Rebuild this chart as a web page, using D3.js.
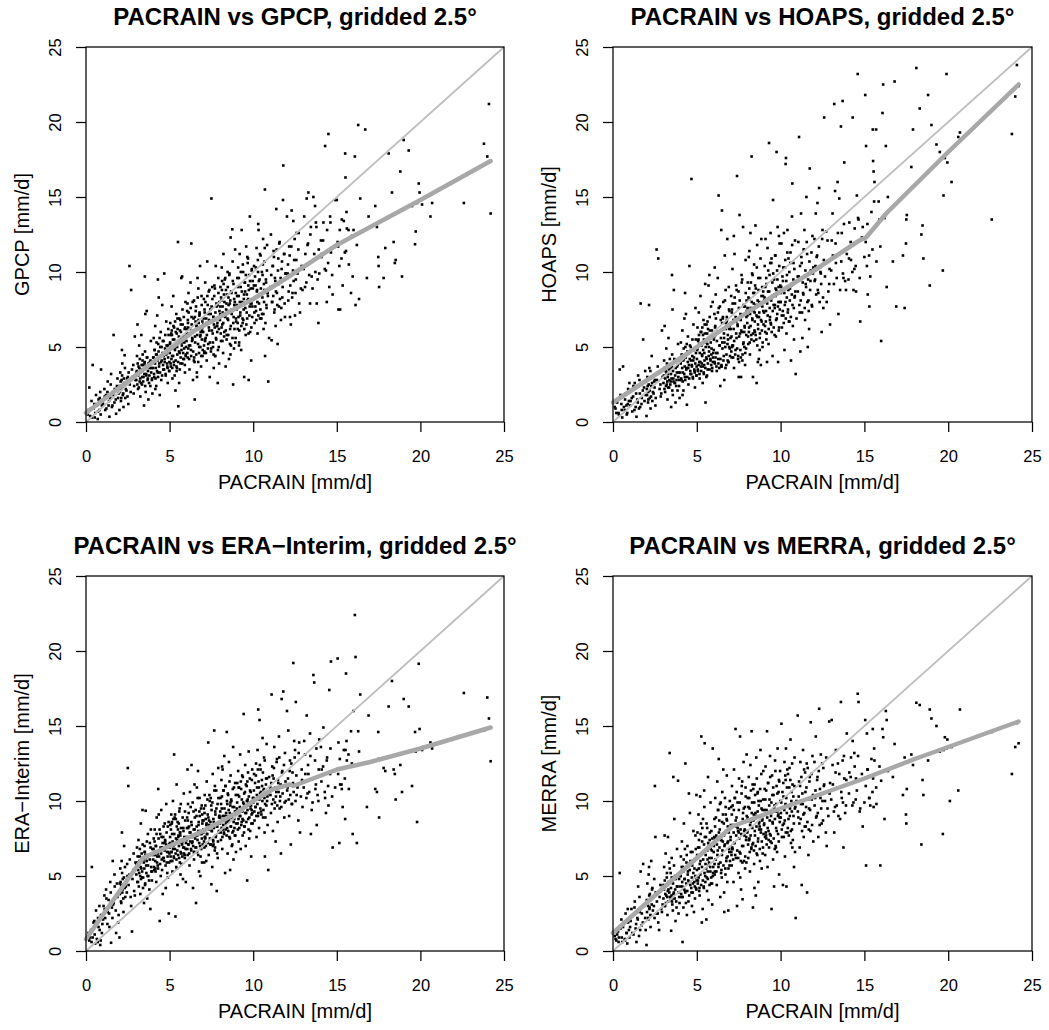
<!DOCTYPE html>
<html>
<head>
<meta charset="utf-8">
<script src="https://cdn.jsdelivr.net/npm/d3@7"></script>
<style>
body { margin: 0; background: #fff; }
svg { display: block; font-family: "Liberation Sans", Arial, Helvetica, sans-serif; }
</style>
</head>
<body>
<svg id="chart" width="1049" height="1030"></svg>
<script>
// PACRAIN grid-box means [mm/d], shared x of all four panels (one line per 1 mm/d bin)
let pacrain = [
0.1,0.2,0.3,0.35,0.4,0.5,0.55,0.6,0.7,0.75,0.8,0.85,0.9,0.95,
1.05,1.1,1.15,1.2,1.3,1.35,1.4,1.45,1.5,1.55,1.6,1.65,1.7,1.8,1.85,1.95,
2.02,2.05,2.09,2.13,2.17,2.2,2.24,2.28,2.31,2.35,2.5,2.6,2.42,2.0,2.46,2.7,2.53,2.1,2.15,2.75,2.85,2.92,
3.02,3.05,3.11,3.14,3.18,3.21,3.25,3.28,3.31,3.35,3.38,3.52,3.44,3.47,3.5,3.53,3.57,3.6,3.63,3.66,3.7,3.73,3.55,3.79,3.82,3.85,3.88,3.91,3.94,3.97,3.08,3.41,
4.02,4.05,4.08,4.11,4.14,4.17,4.2,4.23,4.26,4.29,4.32,4.68,4.38,4.41,4.44,4.47,4.5,4.53,4.56,4.59,4.62,4.15,4.3,4.71,4.74,4.77,4.8,4.83,4.86,4.89,4.92,4.95,4.98,4.35,4.65,4.9,
5.02,5.04,5.07,5.1,5.12,5.15,5.17,5.2,5.22,5.25,5.27,5.5,5.32,5.35,5.37,5.4,5.42,5.45,5.52,5.47,5.55,5.57,5.75,5.6,5.62,5.65,5.67,5.7,5.72,5.3,5.77,5.8,5.82,5.85,5.87,5.9,5.92,5.95,5.97,5.14,5.44,5.64,
6.02,6.05,6.08,6.1,6.13,6.16,6.19,6.22,6.25,6.28,6.31,6.3,6.37,6.4,6.43,6.46,6.49,6.52,6.5,6.58,6.61,6.64,6.67,6.7,6.73,6.76,6.79,6.82,6.85,6.88,6.91,6.94,6.97,6.07,6.34,6.55,6.63,6.72,6.84,6.95,
7.02,7.05,7.08,7.1,7.13,7.16,7.19,7.22,7.25,7.28,7.31,7.34,7.37,7.4,7.43,7.5,7.49,7.52,7.55,7.58,7.61,7.64,7.67,7.7,7.73,7.76,7.79,7.82,7.85,7.88,7.91,7.94,7.97,7.07,7.21,7.46,7.59,7.71,7.84,7.96,
8.02,8.04,8.07,8.1,8.12,8.15,8.17,8.2,8.22,8.25,8.27,8.3,8.32,8.35,8.37,8.75,8.42,8.45,8.47,8.5,8.52,8.55,8.57,8.6,8.62,8.65,8.67,8.7,8.72,8.8,8.77,8.81,8.82,8.85,8.87,8.9,8.92,8.95,8.97,8.14,8.44,8.64,
9.02,9.05,9.08,9.1,9.13,9.16,9.19,9.22,9.25,9.28,9.31,9.34,9.37,9.4,9.43,9.46,9.49,9.52,9.55,9.58,9.61,9.64,9.67,9.7,9.73,9.76,9.79,9.8,9.82,9.85,9.88,9.91,9.94,9.97,9.15,9.45,9.65,9.9,
10.02,10.05,10.08,10.3,10.14,10.17,10.2,10.23,10.26,10.29,10.32,10.35,10.38,10.41,10.44,10.47,10.7,10.53,10.56,10.59,10.62,10.65,10.68,10.71,10.9,10.77,10.8,10.83,10.86,10.95,
11.02,11.06,11.1,11.14,11.18,11.22,11.26,11.3,11.34,11.38,11.42,11.46,11.5,11.54,11.58,11.62,11.66,11.8,11.7,11.74,11.78,11.86,11.9,11.95,
12.02,12.06,12.1,12.15,12.2,12.25,12.3,12.35,12.4,12.45,12.5,12.55,12.6,12.7,12.75,12.8,12.9,12.95,
13.05,13.1,13.2,13.25,13.3,13.4,13.45,13.5,13.6,13.65,13.7,13.75,13.8,13.9,13.95,
14.05,14.1,14.2,14.3,14.35,14.4,14.5,14.55,14.6,14.65,14.75,14.9,
15.0,15.05,15.1,15.15,15.2,15.3,15.35,15.5,15.52,15.55,15.6,15.7,15.85,15.95,
16.0,16.08,16.12,16.2,16.28,16.33,16.4,16.7,16.8,16.9,
17.3,17.4,17.48,17.5,17.53,17.8,17.9,
18.1,18.3,18.4,18.47,18.52,18.8,18.9,19.0,
19.3,19.5,19.68,19.72,19.8,19.9,19.95,
20.1,20.2,20.6,20.7,
22.6,
23.8,24.0,24.1,24.2,
// denser core
0.15,0.25,0.33,0.45,0.52,0.65,0.72,0.82,0.88,0.98,
1.02,1.12,1.22,1.28,1.38,1.48,1.58,1.62,1.72,1.78,1.88,1.92,
2.03,2.07,2.11,2.16,2.19,2.23,2.27,2.33,2.38,2.44,2.48,2.55,2.62,2.67,2.78,2.83,2.88,2.96,
3.01,3.04,3.07,3.09,3.12,3.16,3.19,3.22,3.24,3.27,3.29,3.33,3.36,3.39,3.42,3.46,3.49,3.51,3.54,3.58,3.61,3.64,3.68,3.71,3.74,3.77,3.81,3.86,3.9,3.95,
4.01,4.04,4.07,4.1,4.13,4.16,4.19,4.22,4.25,4.28,4.31,4.34,4.37,4.4,4.43,4.46,4.49,4.52,4.55,4.58,4.61,4.64,4.67,4.7,4.73,4.76,4.79,4.82,4.85,4.88,4.91,4.94,4.97,4.99,
5.01,5.03,5.06,5.08,5.11,5.13,5.16,5.18,5.21,5.23,5.26,5.28,5.31,5.33,5.36,5.38,5.41,5.43,5.46,5.48,5.51,5.53,5.56,5.58,5.61,5.63,5.66,5.68,5.71,5.73,5.76,5.78,5.81,5.83,5.86,5.88,5.91,5.93,5.96,5.98,
6.01,6.04,6.06,6.09,6.12,6.14,6.17,6.2,6.23,6.26,6.29,6.32,6.35,6.38,6.41,6.44,6.47,6.51,6.53,6.56,6.59,6.62,6.65,6.68,6.71,6.74,6.77,6.8,6.83,6.86,6.89,6.92,6.93,6.96,6.98,6.11,6.45,6.78,
7.01,7.03,7.06,7.09,7.11,7.14,7.17,7.2,7.23,7.26,7.29,7.32,7.35,7.38,7.41,7.44,7.47,7.51,7.53,7.56,7.6,7.62,7.65,7.68,7.72,7.74,7.77,7.8,7.83,7.86,7.89,7.92,7.95,7.98,7.12,7.36,7.63,7.87,
8.01,8.03,8.06,8.08,8.11,8.13,8.16,8.18,8.21,8.23,8.26,8.28,8.31,8.33,8.36,8.38,8.41,8.43,8.46,8.48,8.51,8.53,8.56,8.58,8.61,8.63,8.66,8.68,8.71,8.73,8.76,8.78,8.83,8.86,8.88,8.91,8.93,8.96,8.98,8.4,
9.01,9.04,9.07,9.09,9.12,9.14,9.17,9.2,9.23,9.26,9.29,9.32,9.35,9.38,9.41,9.44,9.47,9.51,9.53,9.56,9.59,9.62,9.66,9.69,9.72,9.74,9.77,9.81,9.84,9.87,9.89,9.92,9.95,9.98,9.36,9.71,
10.01,10.04,10.07,10.11,10.13,10.16,10.19,10.22,10.25,10.28,10.31,10.34,10.37,10.4,10.43,10.46,10.49,10.52,10.55,10.58,10.61,10.64,10.67,10.69,10.73,10.76,10.79,10.82,10.85,10.88,
11.03,11.08,11.12,11.16,11.2,11.24,11.28,11.32,11.36,11.4,11.44,11.48,11.52,11.56,11.6,11.64,11.68,11.72,11.76,11.84,11.88,11.93,
12.03,12.08,12.12,12.18,12.22,12.28,12.33,12.38,12.42,12.48,12.53,12.58,12.65,12.72,12.85,12.92,
13.02,13.12,13.18,13.28,13.35,13.42,13.55,13.62,13.72,13.78,13.85,13.92,
14.08,14.18,14.28,14.42,14.48,14.62,14.72,14.85,
15.08,15.18,15.28,15.42,15.48,15.58,15.72,15.9
];

let gpcp = [
0.5,2.3,0.9,0.3,3.8,1.2,0.6,1.8,0.2,1.5,0.8,2.0,3.5,1.1,
1.5,2.2,0.8,1.8,2.7,1.1,0.35,1.6,3.2,1.0,2.0,5.8,1.3,0.55,2.4,1.9,
2.4,3.3,1.4,2.8,3.9,1.8,1.0,2.6,4.45,1.6,3.0,10.4,2.1,0.8,2.9,8.8,1.2,2.2,4.8,3.5,1.9,5.7,
3.3,4.4,2.2,3.7,5.1,2.7,1.7,3.5,5.8,2.5,4.1,9.7,3.0,1.1,3.9,4.7,2.0,3.2,7.4,4.3,2.9,1.5,7.2,3.1,4.0,2.4,5.4,3.6,2.8,1.9,6.5,3.8,
4.3,5.6,3.0,4.8,6.4,3.6,2.4,4.5,7.1,3.3,5.2,9.9,3.9,1.8,5.0,6.0,2.8,4.1,7.8,5.4,3.5,2.2,9.5,4.0,5.8,3.1,6.7,4.6,3.7,2.6,6.2,4.9,3.4,8.3,4.4,5.1,
5.2,6.6,3.7,5.9,7.7,4.4,2.9,5.5,8.4,4.0,6.3,12.0,4.8,2.1,6.0,7.2,3.4,5.0,1.05,6.9,5.7,2.6,9.7,4.6,6.1,3.9,6.5,9.6,5.3,3.1,7.5,5.6,4.2,7.0,4.9,6.2,3.3,8.0,4.5,5.8,3.6,6.8,
5.9,7.4,4.3,6.6,8.6,5.1,3.5,6.2,9.3,4.8,7.0,11.9,5.5,2.8,6.9,8.1,4.0,5.7,1.5,7.7,6.4,3.0,9.6,5.2,6.8,4.6,7.3,10.4,5.8,3.7,8.4,6.1,4.4,7.9,5.4,6.7,3.3,8.9,5.0,6.3,
6.5,8.2,4.7,7.3,9.3,5.6,6.9,4.1,10.7,7.8,5.2,8.7,6.1,3.0,7.5,14.9,4.9,6.7,9.0,5.9,7.0,3.6,8.4,6.3,4.4,10.4,5.5,7.7,6.0,2.6,9.6,5.0,8.0,4.6,6.6,7.2,5.3,8.9,6.4,3.9,
7.2,9.0,5.4,8.1,10.3,6.5,7.7,4.6,11.2,8.5,6.0,9.5,7.0,3.7,8.8,12.85,5.8,7.4,10.0,6.8,8.3,4.2,9.8,7.9,6.2,12.3,5.1,8.6,7.5,2.5,10.7,6.6,9.2,4.9,7.8,8.0,11.5,5.6,6.9,9.4,7.3,4.5,
7.8,9.6,6.2,10.3,8.4,5.3,11.2,7.1,9.0,4.8,12.8,8.0,6.6,10.0,7.5,3.0,9.3,8.7,5.8,11.7,7.3,6.9,10.6,8.2,2.8,9.8,7.7,13.7,6.0,8.9,4.1,10.1,7.0,9.4,5.1,8.5,11.0,7.9,
8.2,10.4,6.6,13.2,9.1,7.4,11.6,8.8,5.9,10.0,12.8,7.9,9.5,6.9,11.1,8.5,15.5,7.2,9.8,12.2,6.2,8.0,10.7,4.4,2.7,9.3,7.6,11.8,8.6,5.6,
9.0,12.5,5.45,8.0,10.4,11.4,7.3,9.6,6.4,14.2,8.6,5.2,10.9,7.7,12.0,9.3,6.8,17.1,10.2,8.3,14.8,11.2,7.0,9.9,
13.7,9.9,8.1,11.7,7.0,6.5,14.1,8.6,13.4,10.8,7.1,9.5,12.6,11.5,7.9,7.3,10.4,8.8,
13.7,9.0,14.9,11.8,15.3,7.9,13.0,9.7,15.0,11.2,14.4,13.3,7.9,6.6,9.9,
12.1,11.2,13.3,18.4,10.1,8.0,19.2,9.0,13.7,11.3,8.5,14.8,
14.8,12.0,7.5,10.4,7.5,13.5,9.1,17.9,16.3,11.4,12.9,12.8,8.6,9.7,
12.8,17.7,7.8,11.8,19.8,8.2,14.9,19.5,9.6,13.7,
14.4,13.0,11.0,10.4,9.0,9.6,11.6,
17.9,15.3,12.0,10.6,10.8,16.7,9.7,18.8,
18.1,14.4,11.85,12.7,14.6,15.9,15.3,
14.5,14.9,13.7,14.6,
14.6,
18.55,17.7,21.2,13.9,
// denser core
0.8,0.4,1.4,0.9,0.3,1.1,0.7,1.6,0.5,1.3,
1.2,1.7,0.9,2.0,1.4,2.5,1.1,1.8,2.2,1.5,2.9,1.6,
2.0,2.7,1.6,3.1,2.3,1.9,2.9,3.6,2.2,2.6,1.7,3.3,2.5,2.0,3.0,3.8,2.4,2.8,
2.8,3.4,2.5,3.9,3.1,2.3,3.6,4.2,2.9,3.3,2.6,3.8,3.0,4.5,2.7,3.5,3.2,4.0,2.4,3.7,3.1,4.3,2.8,3.4,3.9,2.6,3.6,4.1,3.3,2.9,
3.6,4.3,3.2,4.8,3.9,2.9,4.5,5.3,3.4,4.1,3.0,4.7,3.7,5.6,3.3,4.4,4.0,5.0,3.1,4.6,3.8,5.4,3.5,4.2,4.9,3.2,4.5,5.1,3.9,3.6,4.3,5.8,3.4,4.0,
4.6,5.3,3.9,5.8,4.2,6.1,3.6,5.0,4.4,6.4,3.8,5.5,4.9,6.7,4.1,5.2,3.7,5.9,4.5,6.2,4.0,5.4,4.7,6.9,3.5,5.6,4.3,6.0,4.8,5.1,3.9,6.5,4.6,5.7,4.2,5.3,3.8,6.3,4.4,5.0,
5.4,6.2,4.6,6.8,4.9,7.3,4.2,5.9,5.1,7.6,4.4,6.5,5.6,8.0,4.7,6.1,4.3,7.0,5.3,7.4,4.5,6.4,5.8,8.3,4.0,6.6,5.0,7.2,5.7,6.0,4.4,7.8,5.5,6.7,4.8,6.3,4.1,7.1,
6.0,6.9,5.1,7.5,5.5,8.0,4.6,6.5,5.8,8.4,4.9,7.2,6.3,8.8,5.3,6.7,4.7,7.7,6.1,8.2,5.0,7.0,6.5,9.1,4.4,7.3,5.6,7.9,6.4,6.6,4.8,8.6,6.2,7.4,5.4,6.8,4.5,7.8,
6.8,7.7,5.9,8.3,6.3,8.8,5.4,7.3,6.6,9.2,5.7,8.0,7.1,9.6,6.1,7.5,5.5,8.5,6.9,9.0,5.8,7.8,7.3,9.9,5.2,8.1,6.4,8.7,7.2,7.4,5.6,9.4,7.0,8.2,6.2,7.6,5.3,8.6,6.7,7.9,
7.5,8.4,6.6,9.0,7.0,9.6,6.1,8.0,7.3,10.0,6.4,8.7,7.8,10.5,6.8,8.2,6.2,9.3,7.6,9.8,6.5,8.5,8.1,10.9,5.9,8.8,7.1,9.4,7.9,8.1,6.3,10.2,7.7,8.9,6.9,9.1,
8.2,9.1,7.3,9.7,7.7,10.3,6.8,8.7,8.0,10.8,7.1,9.4,8.5,11.2,7.5,8.9,6.9,10.0,8.3,10.5,7.2,9.2,8.8,11.6,6.6,9.5,7.8,10.1,8.6,8.4,
8.9,9.8,8.0,10.4,8.4,11.0,7.5,9.4,8.7,11.5,7.8,10.1,9.2,11.9,8.2,9.6,7.6,10.7,9.0,11.2,7.9,9.9,
9.6,10.5,8.7,11.1,9.1,11.7,8.3,10.1,9.4,12.2,8.6,10.8,9.9,12.6,8.9,10.3,
10.2,11.2,9.3,11.9,9.8,12.5,8.9,10.8,10.0,13.0,9.5,11.5,
11.0,12.1,10.2,12.8,10.6,13.3,9.8,11.7,
11.7,12.8,10.9,13.4,11.3,14.0,10.5,12.4
];

let hoaps = [
1.0,0.6,1.5,0.5,3.5,1.2,0.3,3.7,0.8,1.9,1.1,0.6,2.2,1.4,
1.4,2.1,0.7,1.7,2.6,1.0,0.35,1.5,3.1,0.9,1.9,7.9,1.2,5.5,2.3,1.8,
2.2,3.0,1.3,2.5,3.6,1.6,0.9,2.4,4.4,1.4,2.8,11.5,1.9,0.4,2.7,10.9,1.1,2.0,7.8,3.3,1.7,6.1,
3.0,4.1,2.0,3.4,4.9,2.5,1.5,3.2,5.6,2.3,3.8,9.8,2.7,1.0,3.6,4.5,1.8,2.9,8.8,4.2,2.6,1.3,7.5,2.8,3.7,2.1,5.2,3.3,2.4,1.6,6.4,3.5,
4.0,5.3,2.8,4.4,6.1,3.3,2.1,4.2,6.9,3.0,5.0,16.2,3.6,1.15,4.7,5.7,2.5,3.8,10.4,5.1,3.2,1.8,8.6,3.7,5.5,2.9,6.5,4.3,3.4,2.3,7.6,4.6,3.1,7.2,4.1,4.9,
4.8,6.3,3.4,5.5,7.3,4.0,2.9,5.1,8.4,3.7,6.0,9.2,4.4,2.6,5.8,6.8,3.2,4.6,1.3,6.5,5.3,3.0,9.8,4.2,5.9,3.5,6.2,9.1,5.0,3.9,7.0,5.6,4.1,7.7,4.5,6.1,3.6,8.0,4.3,5.2,3.8,6.7,
5.5,7.2,3.9,6.4,8.5,4.6,3.4,6.0,9.6,4.2,7.6,15.1,5.1,2.4,6.8,12.8,3.7,5.3,14.1,8.0,4.4,2.8,11.1,5.0,6.6,3.8,7.0,12.2,5.8,4.0,9.0,6.2,4.9,10.3,3.6,6.9,5.6,8.8,4.1,7.4,
6.2,8.4,4.3,7.5,10.2,5.1,6.8,3.6,11.2,7.9,4.8,9.1,5.6,16.4,6.5,3.0,8.7,4.0,13.8,5.9,7.2,3.0,9.8,6.0,4.5,13.0,5.3,7.7,6.4,3.8,10.8,4.9,8.1,5.7,12.4,4.2,6.9,9.5,5.0,7.0,
7.1,9.3,5.2,11.0,6.3,8.2,4.5,12.6,7.6,5.8,17.7,9.9,6.8,3.0,8.6,4.8,10.5,7.3,6.0,13.1,8.9,5.5,2.6,11.8,7.0,6.5,9.6,4.2,8.0,10.9,5.9,7.8,3.8,12.2,6.7,9.0,5.0,8.4,7.4,11.4,6.1,4.0,
8.1,10.4,6.0,12.2,7.4,9.2,4.0,11.6,8.7,5.2,18.6,9.8,7.0,12.6,6.5,10.9,8.4,4.4,14.8,7.8,9.5,5.8,11.1,8.9,6.8,18.0,10.1,7.2,13.0,4.0,9.0,6.3,11.9,8.0,5.5,10.6,7.6,12.4,
8.6,11.9,6.3,17.2,9.4,7.1,12.6,4.8,10.3,8.0,17.6,5.9,9.8,12.8,7.5,10.9,15.9,6.7,8.9,11.3,4.1,9.1,13.7,7.8,3.2,10.6,5.5,8.3,12.1,6.9,
9.7,12.0,19.0,7.3,4.7,13.9,10.6,5.6,8.6,11.5,12.8,6.8,9.2,15.0,11.2,5.0,8.1,10.1,6.2,16.9,9.4,7.8,12.4,10.3,
12.2,9.5,13.9,11.0,14.6,8.6,15.6,10.3,9.9,6.0,12.8,7.6,20.3,10.6,8.0,12.1,9.2,6.5,
12.1,13.9,21.2,15.4,10.6,16.0,7.2,14.9,19.7,12.6,21.4,9.6,17.3,8.8,11.2,
9.5,13.3,10.8,20.3,8.8,10.2,8.7,15.1,23.2,13.5,6.7,13.0,
11.0,21.8,18.4,10.4,8.5,7.7,9.7,19.5,17.4,16.7,16.0,19.5,14.7,11.7,
5.4,20.6,22.5,13.6,18.4,9.0,15.0,10.7,22.7,7.7,
11.1,7.6,11.9,13.5,13.8,17.0,19.5,
23.6,20.9,12.5,13.1,10.9,21.8,9.1,19.8,
18.5,18.0,10.1,15.1,17.6,23.2,17.3,
18.1,16.0,19.0,19.3,
13.5,
19.2,21.7,23.8,22.4,
// denser core
0.9,1.3,0.6,1.8,0.8,1.0,1.5,0.5,1.2,2.6,
1.1,1.6,2.4,0.8,1.9,1.3,2.8,1.0,1.6,2.1,1.4,3.4,
1.8,2.4,1.5,2.9,2.1,3.4,1.7,2.6,2.0,3.1,2.3,1.6,2.8,3.7,2.2,2.5,1.9,3.0,
2.6,3.1,2.2,3.6,2.9,2.4,3.3,3.9,2.7,3.0,2.3,3.5,2.8,4.2,2.5,3.2,2.9,3.7,2.1,3.4,2.7,4.0,2.6,3.1,3.6,2.4,3.3,3.8,3.0,2.8,
3.3,3.9,2.9,4.5,3.6,2.7,4.1,4.9,3.2,3.7,2.8,4.3,3.5,5.2,3.0,4.0,3.6,4.6,2.9,4.2,3.4,5.0,3.2,3.8,4.4,3.0,4.1,4.8,3.5,3.3,3.9,5.5,3.1,3.7,
4.2,4.9,3.5,5.4,3.8,5.8,3.2,4.6,4.0,6.0,3.4,5.1,4.5,6.3,3.7,4.8,3.3,5.5,4.1,5.9,3.6,5.0,4.3,6.5,3.1,5.2,3.9,5.6,4.4,4.7,3.5,6.1,4.2,5.3,3.8,4.9,3.4,5.8,4.0,4.6,
4.8,5.7,4.0,6.3,4.3,6.9,3.7,5.4,4.6,7.3,3.9,6.0,5.1,7.7,4.2,5.6,3.8,6.6,4.9,7.0,4.1,5.9,5.3,8.1,3.6,6.2,4.5,6.8,5.2,5.5,4.0,7.5,5.0,6.4,4.4,5.8,3.7,6.7,
5.6,6.6,4.7,7.3,5.0,7.9,4.3,6.2,5.4,8.3,4.5,7.0,5.9,8.8,4.9,6.4,4.4,7.6,5.7,8.1,4.8,6.8,6.1,9.3,4.1,7.1,5.2,7.8,6.0,6.3,4.6,8.6,5.8,7.4,5.1,6.7,4.3,7.7,
6.6,7.6,5.7,8.3,6.0,8.9,5.3,7.2,6.4,9.3,5.5,8.0,6.9,9.8,5.9,7.4,5.4,8.6,6.7,9.1,5.8,7.8,7.1,10.3,5.1,8.1,6.2,8.8,7.0,7.3,5.6,9.6,6.8,8.4,6.1,7.7,5.3,8.7,6.5,7.9,
7.3,8.3,6.4,9.0,6.7,9.6,5.9,7.9,7.1,10.1,6.2,8.7,7.6,10.6,6.6,8.1,6.0,9.3,7.4,9.9,6.3,8.5,7.8,11.1,5.7,8.8,6.9,9.5,7.7,8.0,6.1,10.4,7.5,9.1,6.8,8.4,
8.0,9.0,7.1,9.7,7.4,10.3,6.6,8.6,7.8,10.8,6.9,9.4,8.3,11.3,7.3,8.8,6.7,10.0,8.1,10.6,7.0,9.2,8.5,11.8,6.4,9.5,7.6,10.2,8.4,8.7,
8.7,9.7,7.8,10.4,8.1,11.0,7.3,9.3,8.5,11.5,7.6,10.1,9.0,12.0,8.0,9.5,7.4,10.7,8.8,11.3,7.7,9.9,
9.4,10.4,8.5,11.1,8.8,11.7,8.0,10.0,9.2,12.2,8.3,10.8,9.7,12.7,8.7,10.2,
10.1,11.1,9.2,11.9,9.6,12.6,8.8,10.7,9.9,13.2,9.4,11.5,
10.9,12.0,10.0,12.9,10.4,13.6,9.6,12.3,
12.0,13.2,11.1,14.0,11.5,14.7,10.7,13.5
];

let eraInterim = [
1.0,0.7,1.4,5.6,0.9,2.0,0.5,2.7,0.6,1.6,3.0,0.4,2.4,1.2,
3.0,3.7,2.2,4.1,2.6,3.4,1.6,4.6,0.55,2.9,6.0,3.2,5.1,1.2,4.5,2.4,
4.5,5.5,3.3,6.0,3.9,4.8,2.6,7.0,4.2,3.6,12.2,5.1,4.7,0.9,5.8,3.0,11.0,4.4,7.9,1.3,6.5,3.7,
5.8,6.9,4.6,7.4,5.2,6.3,3.8,8.5,5.5,4.9,9.4,6.6,6.1,3.2,7.0,4.4,9.35,5.7,6.0,3.5,7.8,5.0,6.4,4.1,7.2,2.8,8.1,5.3,4.7,6.8,5.9,4.2,
6.4,7.5,5.4,8.1,6.0,7.0,4.6,8.9,6.3,5.7,10.8,7.2,6.7,2.0,7.8,5.0,9.4,6.1,6.9,3.8,7.6,5.5,6.5,8.5,7.3,4.2,9.8,5.9,5.2,8.3,6.6,2.5,7.1,9.1,6.2,4.9,
7.2,8.4,6.0,9.1,6.6,7.8,5.3,10.0,7.0,6.3,13.1,8.1,6.8,2.3,8.8,5.6,11.1,7.4,7.6,4.4,8.5,6.2,7.1,9.5,7.9,5.1,9.8,6.5,5.8,8.9,7.3,4.8,8.2,10.5,6.9,6.4,9.3,7.5,4.6,8.6,5.5,7.7,
7.6,8.9,6.4,9.8,7.1,8.3,5.7,10.6,7.9,6.8,12.4,8.6,7.3,4.2,9.3,6.1,11.1,7.7,8.1,3.2,9.0,6.6,7.4,12.0,8.4,5.3,10.2,7.0,6.3,9.5,7.8,5.9,8.7,12.1,7.2,6.9,10.9,8.0,5.0,9.1,
8.1,9.5,6.9,10.4,7.5,8.8,6.0,11.3,7.8,9.1,13.9,6.4,8.4,10.0,7.1,4.45,9.7,8.0,5.6,11.8,7.3,8.6,14.7,6.7,9.3,7.6,10.7,4.0,8.3,6.2,12.2,7.9,9.0,5.9,8.5,10.2,7.0,11.0,6.5,8.9,
8.9,10.2,7.4,11.4,9.5,6.8,12.1,8.1,10.7,7.9,13.0,9.0,5.2,11.0,8.5,7.1,14.6,9.8,6.5,10.4,8.7,12.6,7.6,9.2,5.4,11.7,8.3,10.0,7.0,13.6,9.6,8.0,6.1,10.9,8.8,7.7,11.2,9.3,6.6,12.3,8.2,9.9,
9.5,11.2,8.1,12.0,7.3,10.3,9.0,13.1,6.8,10.8,8.6,11.7,7.7,9.9,15.8,10.5,8.3,12.4,7.0,9.2,11.0,4.7,10.1,8.8,13.3,7.5,9.7,11.5,8.0,10.6,6.3,9.4,12.1,8.5,10.9,7.9,11.3,9.1,
10.2,11.8,8.7,16.1,9.6,12.5,7.6,10.9,13.4,9.0,11.3,8.2,15.4,10.5,12.1,9.3,6.3,11.0,14.2,8.9,10.7,12.9,7.9,9.8,5.4,11.5,13.8,10.0,8.4,11.6,
10.9,9.2,17.1,12.3,8.0,11.5,13.6,9.9,7.3,10.6,12.8,8.6,11.2,14.3,9.5,10.3,6.5,17.3,16.8,12.0,11.0,8.9,13.2,10.0,
16.0,10.9,14.7,9.0,12.7,7.1,9.8,11.9,19.2,14.0,13.4,16.6,10.4,8.7,13.9,7.9,12.1,9.6,
14.0,13.1,15.7,10.5,11.8,14.5,7.8,9.4,18.4,17.9,12.7,11.1,8.4,10.0,14.1,
13.6,12.1,14.9,10.2,9.2,12.7,9.7,17.4,11.8,19.3,6.9,10.9,
12.1,19.5,13.9,7.2,11.1,10.8,9.6,8.8,13.4,18.5,12.7,13.1,14.65,7.8,
16.0,22.4,19.6,7.2,14.65,13.3,17.1,12.5,9.6,15.7,
10.8,10.6,14.6,12.8,8.9,12.2,12.0,
16.3,18.0,12.1,11.8,10.1,12.4,10.6,16.8,
16.3,11.0,14.6,13.3,8.6,19.15,14.8,
13.4,13.6,13.9,13.5,
17.2,
14.7,16.9,15.5,12.65,
// denser core
1.2,0.9,0.6,1.9,1.1,0.8,2.2,1.4,0.7,1.8,
2.1,2.8,3.5,1.8,2.5,3.9,2.2,3.1,4.3,2.7,3.6,1.9,
3.8,4.6,3.2,5.2,4.1,3.5,4.9,5.6,4.3,3.9,5.0,4.4,6.1,3.6,4.8,5.4,4.0,5.9,
5.1,5.8,4.6,6.3,5.4,4.3,6.0,6.8,5.0,5.6,4.8,6.5,5.3,7.1,4.9,5.9,5.5,6.6,4.5,6.2,5.2,7.3,5.0,5.7,6.4,4.7,6.1,6.9,5.6,5.3,
6.1,6.8,5.6,7.3,6.4,5.3,7.0,7.8,5.9,6.6,5.5,7.5,6.3,8.1,5.8,6.9,6.5,7.6,5.4,7.2,6.2,8.3,6.0,6.7,7.4,5.7,7.1,7.9,6.6,6.3,6.9,8.6,5.9,6.5,
6.9,7.6,6.3,8.1,6.6,8.5,6.0,7.3,6.8,8.8,6.2,7.8,7.1,9.1,6.5,7.5,6.1,8.3,6.7,8.6,6.4,7.7,7.0,9.3,5.9,7.9,6.6,8.2,7.2,7.4,6.3,8.9,6.9,8.0,6.5,7.6,6.2,8.7,6.8,7.2,
7.4,8.2,6.8,8.7,7.1,9.2,6.5,7.9,7.3,9.6,6.7,8.4,7.6,9.9,7.0,8.1,6.6,8.9,7.5,9.4,6.9,8.3,7.7,10.2,6.4,8.6,7.2,9.0,7.8,8.0,6.8,9.7,7.5,8.5,7.1,8.2,6.6,9.3,
7.9,8.7,7.3,9.2,7.6,9.7,7.0,8.4,7.8,10.1,7.2,8.9,8.1,10.4,7.5,8.6,7.1,9.4,8.0,9.9,7.4,8.8,8.2,10.7,6.9,9.1,7.7,9.5,8.3,8.5,7.3,10.2,8.0,9.0,7.6,8.7,7.1,9.8,
8.5,9.3,7.9,9.8,8.2,10.3,7.6,9.0,8.4,10.7,7.8,9.5,8.7,11.0,8.1,9.2,7.7,10.0,8.6,10.5,8.0,9.4,8.8,11.3,7.5,9.7,8.3,10.1,8.9,9.1,7.9,10.8,8.6,9.6,8.2,9.3,7.7,10.4,8.5,9.0,
9.1,9.9,8.5,10.4,8.8,10.9,8.2,9.6,9.0,11.3,8.4,10.1,9.3,11.6,8.7,9.8,8.3,10.6,9.2,11.1,8.6,10.0,9.4,11.9,8.1,10.3,8.9,10.7,9.5,9.7,8.5,11.4,9.2,10.2,8.8,9.9,
9.9,10.7,9.3,11.2,9.6,11.7,9.0,10.4,9.8,12.1,9.2,10.9,10.1,12.4,9.5,10.6,9.1,11.4,10.0,11.9,9.4,10.8,10.2,12.7,8.9,11.1,9.7,11.5,10.3,10.5,
10.4,11.2,9.8,11.7,10.1,12.2,9.5,10.9,10.3,12.6,9.7,11.4,10.6,12.9,10.0,11.1,9.6,11.9,10.5,12.4,9.9,11.3,
10.7,11.5,10.1,12.0,10.4,12.5,9.8,11.2,10.6,12.9,10.0,11.7,10.9,13.2,10.3,11.4,
10.9,11.8,10.2,12.4,10.6,13.0,9.9,11.5,10.8,13.5,10.4,12.1,
11.3,12.3,10.6,12.9,11.0,13.5,10.3,12.0,
11.8,12.8,11.1,13.4,11.5,14.0,10.8,12.5
];

let merra = [
1.0,0.7,1.3,0.9,5.2,2.1,0.6,1.6,0.8,2.5,1.2,0.5,1.9,1.4,
2.0,2.8,1.2,2.4,3.3,1.5,0.6,2.2,4.3,1.0,2.6,5.3,1.7,5.8,3.0,1.4,
3.4,4.5,2.2,5.1,2.8,3.8,1.6,6.0,3.1,4.2,11.0,2.5,3.6,0.4,4.8,1.9,7.6,3.0,5.6,1.4,4.0,2.6,
4.4,5.6,3.0,6.5,3.7,4.9,2.4,7.6,4.1,5.9,13.2,3.3,5.2,1.35,6.2,4.6,2.7,11.6,3.9,8.8,5.0,2.0,3.5,2.9,6.8,4.3,11.35,2.5,4.8,3.2,7.7,3.6,
5.0,6.3,3.6,7.3,4.3,5.6,2.9,8.5,4.8,6.8,12.5,3.9,5.9,2.4,7.0,5.3,3.3,10.5,4.6,9.2,6.0,0.6,4.0,3.0,6.6,4.5,8.0,2.6,5.5,3.5,7.7,4.2,10.4,3.2,5.8,4.9,
6.4,7.9,4.7,9.1,5.5,6.9,3.7,10.3,6.0,8.5,14.3,5.0,7.3,2.8,8.8,6.6,4.2,9.6,5.8,13.85,7.6,2.1,6.2,4.9,8.2,5.3,11.6,3.4,7.0,1.9,7.4,5.6,9.9,4.5,8.0,6.7,3.1,13.5,5.2,4.0,10.7,6.1,
7.0,8.8,5.3,10.2,6.1,7.7,4.4,11.3,6.7,9.4,12.8,5.8,8.1,3.6,9.9,7.4,4.9,10.6,6.4,12.1,8.5,2.6,7.1,5.5,9.1,6.0,11.7,4.6,8.3,2.7,7.9,6.6,10.0,5.1,8.7,7.3,3.9,9.6,6.3,5.7,
7.6,9.6,5.7,11.0,6.8,8.4,4.6,12.1,7.2,10.2,14.8,6.2,8.9,3.0,9.9,7.9,5.2,11.5,6.6,14.3,8.1,4.1,10.5,7.0,3.45,9.2,12.6,6.0,8.6,5.5,10.9,7.4,13.1,6.4,9.4,8.0,4.9,11.3,7.7,5.9,
8.0,10.2,6.2,11.6,7.4,9.5,5.3,12.4,8.6,6.8,14.65,9.9,7.1,2.9,10.8,8.3,5.8,11.1,7.7,9.2,3.7,12.9,6.5,8.9,10.5,7.3,4.6,9.7,8.1,13.4,6.0,10.0,7.9,11.8,5.5,8.7,9.4,6.9,12.0,7.5,4.2,10.6,
8.5,10.8,6.4,12.3,7.7,9.4,14.65,5.6,11.2,8.0,6.9,10.1,13.0,7.3,9.0,2.8,11.7,8.6,6.1,10.4,4.3,9.7,12.7,7.0,8.2,11.0,6.6,9.3,13.5,7.8,10.6,5.1,8.9,12.0,7.5,9.9,6.8,11.4,
9.2,15.15,7.6,11.4,4.4,10.3,8.5,12.6,6.3,9.8,13.5,4.3,10.9,7.9,11.8,8.8,6.9,12.2,9.5,14.1,7.2,10.6,8.1,11.1,2.2,9.0,5.6,12.9,6.6,10.0,
15.7,8.9,11.3,6.9,12.6,9.8,4.4,10.5,13.4,7.6,9.2,11.9,8.3,10.9,3.9,12.2,6.4,15.25,9.5,11.6,8.0,10.1,13.0,7.3,
12.6,10.2,14.3,9.0,11.6,7.6,16.15,10.8,13.1,8.5,10.0,12.2,11.1,7.9,7.0,9.5,15.3,11.2,
15.4,12.4,7.9,9.6,13.4,10.9,9.0,11.8,16.6,10.2,12.7,6.9,11.5,9.7,14.5,
11.1,11.9,12.9,14.0,9.9,13.2,11.5,10.7,17.15,16.6,9.5,8.3,
9.9,15.4,5.7,14.5,12.1,10.2,9.7,14.8,11.5,9.6,12.7,10.9,11.9,5.7,
11.35,14.8,14.25,8.8,16.0,15.4,12.0,11.6,13.8,12.3,
10.4,12.9,9.1,8.5,10.8,13.1,12.4,
16.55,16.4,7.1,11.4,10.4,12.7,16.1,15.5,
15.0,13.3,7.8,13.4,14.25,13.5,14.1,
10.0,13.6,10.7,16.1,
14.6,
11.8,13.6,15.2,13.85,
// denser core
0.8,1.1,0.6,1.5,0.9,1.9,0.7,1.2,2.8,0.9,
1.6,2.3,1.1,2.9,1.8,2.1,3.6,1.4,2.5,1.9,3.1,2.2,
2.6,3.2,2.1,3.7,2.9,2.4,3.5,4.1,2.7,3.0,2.2,3.9,3.3,2.5,3.6,4.4,2.8,3.1,
3.5,4.1,3.0,4.7,3.8,3.2,4.4,5.2,3.6,4.0,3.3,4.6,3.9,5.5,3.4,4.2,3.7,4.9,3.1,4.5,3.8,5.7,3.5,4.1,4.8,3.3,4.3,5.0,3.9,3.6,
4.3,5.0,3.8,5.6,4.6,3.6,5.3,6.1,4.1,4.8,3.9,5.5,4.5,6.4,4.0,5.1,4.7,5.8,3.7,5.4,4.4,6.6,4.2,4.9,5.7,3.9,5.2,6.0,4.6,4.3,5.0,6.8,4.1,4.7,
5.4,6.3,4.5,6.9,4.9,7.4,4.2,5.8,5.1,7.8,4.4,6.5,5.6,8.2,4.7,6.1,4.3,7.1,5.2,7.6,4.6,6.4,5.5,8.5,4.0,6.7,4.8,7.2,5.7,5.9,4.4,7.9,5.3,6.8,4.9,6.2,4.5,7.5,5.0,5.6,
6.6,7.6,5.8,8.3,6.1,8.9,5.3,7.1,6.4,9.4,5.6,7.9,6.9,9.8,5.9,7.4,5.4,8.6,6.7,9.1,5.7,7.7,7.0,10.2,5.1,8.0,6.2,8.7,7.2,7.3,5.5,9.5,6.8,8.2,6.0,7.5,5.2,8.8,
7.4,8.4,6.6,9.1,6.9,9.7,6.1,7.9,7.2,10.2,6.4,8.7,7.7,10.6,6.7,8.2,6.2,9.4,7.5,9.9,6.5,8.5,7.8,11.0,5.9,8.8,7.0,9.5,8.0,8.1,6.3,10.3,7.6,9.0,6.8,8.3,6.0,9.6,
7.9,8.9,7.1,9.6,7.4,10.2,6.6,8.4,7.7,10.7,6.9,9.2,8.2,11.1,7.2,8.7,6.7,9.9,8.0,10.4,7.0,9.0,8.3,11.5,6.4,9.3,7.5,10.0,8.5,8.6,6.8,10.8,8.1,9.5,7.3,8.8,6.5,10.1,7.8,9.1,
8.4,9.4,7.6,10.1,7.9,10.7,7.1,8.9,8.2,11.2,7.4,9.7,8.7,11.6,7.7,9.2,7.2,10.4,8.5,10.9,7.5,9.5,8.8,12.0,6.9,9.8,8.0,10.5,9.0,9.1,7.3,11.3,8.6,10.0,7.8,9.3,
8.9,9.9,8.1,10.6,8.4,11.2,7.6,9.4,8.7,11.7,7.9,10.2,9.2,12.1,8.2,9.7,7.7,10.9,9.0,11.4,8.0,10.0,9.3,12.5,7.4,10.3,8.5,11.0,9.5,9.6,
9.3,10.3,8.5,11.0,8.8,11.6,8.0,9.8,9.1,12.1,8.3,10.6,9.6,12.5,8.6,10.1,8.1,11.3,9.4,11.8,8.4,10.4,
9.7,10.7,8.9,11.4,9.2,12.0,8.4,10.2,9.5,12.5,8.7,11.0,10.0,12.9,9.0,10.5,
10.1,11.1,9.3,11.9,9.7,12.5,8.8,10.6,9.9,13.0,9.2,11.4,
10.5,11.6,9.7,12.3,10.1,13.0,9.3,11.8,
11.0,12.1,10.2,12.8,10.6,13.5,9.8,12.3
];

// fitted curves (thick grey lines)
let gpcpFitX = [0, 6.5, 8, 10, 12, 15, 20, 24.2];
let gpcpFitY = [0.6, 6.1, 7.0, 8.2, 9.6, 11.8, 14.8, 17.4];
let hoapsFitX = [0, 3, 5, 8, 10, 12, 14.7, 15.1, 16.3, 20, 24.2];
let hoapsFitY = [1.3, 3.5, 5.0, 7.3, 8.7, 10.1, 12.1, 12.3, 13.9, 18.0, 22.5];
let eraFitX = [0, 3.4, 5, 7, 9, 10, 11.2, 12.2, 12.4, 15, 17, 20, 24.2];
let eraFitY = [0.8, 6.2, 7.0, 8.0, 9.2, 10.0, 10.8, 11.1, 11.0, 12.1, 12.6, 13.5, 14.9];
let merraFitX = [0, 5, 7.1, 9.5, 12, 15, 18, 20, 24.2];
let merraFitY = [1.2, 6.2, 8.3, 9.3, 10.3, 11.5, 12.8, 13.6, 15.3];

let ticks = [0, 5, 10, 15, 20, 25];

let panels = [
    { name: 'GPCP', values: gpcp, fitX: gpcpFitX, fitY: gpcpFitY, col: 0, row: 0 },
    { name: 'HOAPS', values: hoaps, fitX: hoapsFitX, fitY: hoapsFitY, col: 1, row: 0 },
    { name: 'ERA\u2212Interim', values: eraInterim, fitX: eraFitX, fitY: eraFitY, col: 0, row: 1 },
    { name: 'MERRA', values: merra, fitX: merraFitX, fitY: merraFitY, col: 1, row: 1 }
];

let boxLeft = [86, 613], boxRight = [504, 1032];
let boxTop = [47, 576], boxBottom = [422, 951];

let svg = d3.select('#chart');

panels.forEach(p => {
    let x0 = boxLeft[p.col], x1 = boxRight[p.col];
    let y0 = boxTop[p.row], y1 = boxBottom[p.row];
    let x = d3.scaleLinear().domain([0, 25]).range([x0, x1]);
    let y = d3.scaleLinear().domain([0, 25]).range([y1, y0]);
    let g = svg.append('g');

    let n = Math.min(pacrain.length, p.values.length);
    let pts = d3.range(n).map(i => [pacrain[i], p.values[i]]);

    g.append('g')
        .selectAll('rect')
        .data(pts)
        .enter()
        .append('rect')
        .attr('x', d => x(d[0]) - 1.3)
        .attr('y', d => y(d[1]) - 1.3)
        .attr('width', 2.6)
        .attr('height', 2.6)
        .attr('fill', '#000');

    // 1:1 line
    g.append('line')
        .attr('x1', x(0)).attr('y1', y(0))
        .attr('x2', x(25)).attr('y2', y(25))
        .attr('stroke', '#bebebe')
        .attr('stroke-width', 1.8);

    // fit
    let line = d3.line().x(d => x(d[0])).y(d => y(d[1]));
    g.append('path')
        .attr('d', line(p.fitX.map((v, i) => [v, p.fitY[i]])))
        .attr('fill', 'none')
        .attr('stroke', '#a8a8a8')
        .attr('stroke-width', 4.5)
        .attr('stroke-linejoin', 'round')
        .attr('stroke-linecap', 'round');

    g.append('rect')
        .attr('x', x0).attr('y', y0)
        .attr('width', x1 - x0).attr('height', y1 - y0)
        .attr('fill', 'none')
        .attr('stroke', '#000')
        .attr('stroke-width', 1.25);

    let xAxis = g.append('g')
        .attr('transform', `translate(0,${y1})`)
        .call(d3.axisBottom(x).tickValues(ticks).tickSize(10).tickFormat(d3.format('d')))
        .attr('font-family', null).attr('font-size', null);
    xAxis.select('.domain').remove();
    xAxis.selectAll('line').attr('stroke', '#000').attr('stroke-width', 1.25);
    xAxis.selectAll('text')
        .attr('y', 34).attr('dy', '0.36em')
        .attr('fill', '#000')
        .style('font-size', '16.5px');

    let yAxis = g.append('g')
        .attr('transform', `translate(${x0},0)`)
        .call(d3.axisLeft(y).tickValues(ticks).tickSize(10).tickFormat(d3.format('d')))
        .attr('font-family', null).attr('font-size', null);
    yAxis.select('.domain').remove();
    yAxis.selectAll('line').attr('stroke', '#000').attr('stroke-width', 1.25);
    yAxis.selectAll('text')
        .attr('transform', 'rotate(-90)')
        .attr('x', 0).attr('y', -31).attr('dy', '0.36em')
        .attr('text-anchor', 'middle')
        .attr('fill', '#000')
        .style('font-size', '16.5px');

    g.append('text')
        .attr('x', (x0 + x1) / 2)
        .attr('y', y1 + 60)
        .attr('dy', '0.36em')
        .attr('text-anchor', 'middle')
        .style('font-size', '20px')
        .text('PACRAIN [mm/d]');

    g.append('text')
        .attr('transform', `translate(${x0 - 64},${(y0 + y1) / 2}) rotate(-90)`)
        .attr('dy', '0.36em')
        .attr('text-anchor', 'middle')
        .style('font-size', '20px')
        .text(`${p.name} [mm/d]`);

    g.append('text')
        .attr('x', (x0 + x1) / 2)
        .attr('y', y0 - 31)
        .attr('dy', '0.36em')
        .attr('text-anchor', 'middle')
        .style('font-size', '24px')
        .style('font-weight', 'bold')
        .text(`PACRAIN vs ${p.name}, gridded 2.5\u00b0`);
});
</script>
</body>
</html>
